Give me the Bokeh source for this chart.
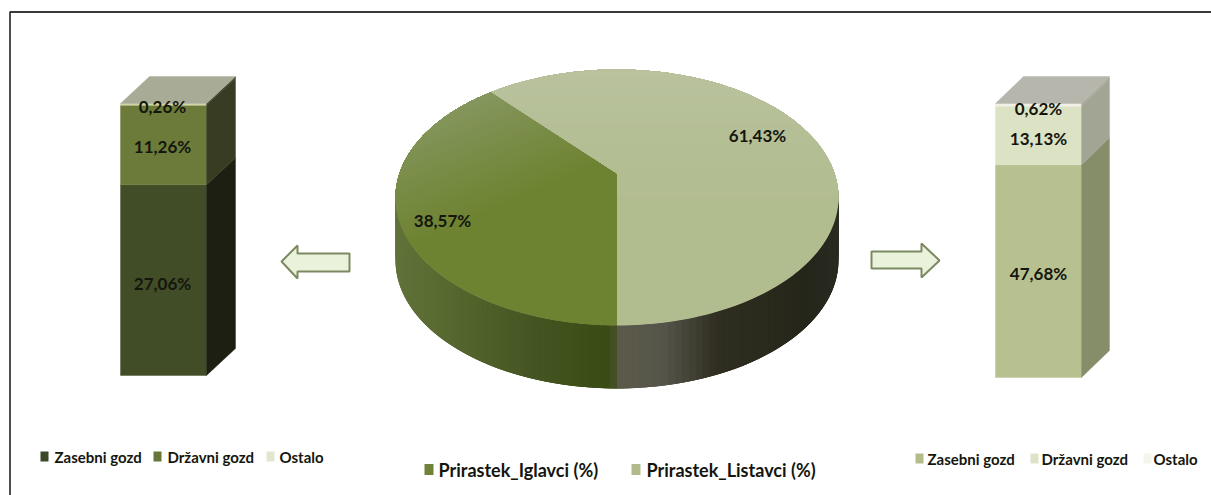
from bokeh.core.properties import value
from bokeh.embed import file_html
from bokeh.models import Range1d
from bokeh.plotting import figure
from bokeh.resources import INLINE
import numpy as np

WIDTH, HEIGHT = 1211, 495

# Share of increment by tree group, and how each group splits by ownership
pie_names = ["Prirastek_Iglavci (%)", "Prirastek_Listavci (%)"]
pie_values = [38.57, 61.43]
pie_labels = ["38,57%", "61,43%"]

owners = ["Zasebni gozd", "Državni gozd", "Ostalo"]
conifer_values = [27.06, 11.26, 0.26]
conifer_labels = ["27,06%", "11,26%", "0,26%"]
broadleaf_values = [47.68, 13.13, 0.62]
broadleaf_labels = ["47,68%", "13,13%", "0,62%"]

conifer_front = ["#414d27", "#6c7b3a", "#d3d6a6"]
conifer_side = ["#1c1f12", "#373c22", "#3c4228"]
conifer_cap = "#a8ab95"
broadleaf_front = ["#b7c190", "#dce2c4", "#f0f0e4"]
broadleaf_side = ["#868d69", "#a3a594", "#a8a99c"]
broadleaf_cap = "#b6b6ad"

p = figure(width=WIDTH, height=HEIGHT, output_backend="svg", toolbar_location=None,
           x_range=Range1d(0, WIDTH), y_range=Range1d(HEIGHT, 0),
           min_border=0, outline_line_color=None, background_fill_color="white",
           border_fill_color="white")
p.axis.visible = False
p.grid.visible = False

FONT = value("Lato")

def label(x, y, text, size="17px", align="center", color="#14160e"):
    p.text([x], [y], text=[text], text_font=FONT, text_font_style="bold", text_font_size=size,
           text_align=align, text_baseline="middle", text_color=color)

# Frame lines along the top and left of the panel
p.line([9.5, 9.5, WIDTH], [HEIGHT, 11.5, 11.5], line_color="#3a3a36", line_width=1.8)

# ---- 3D pie: a tilted disc projected through a simple perspective ----
PIE_CX, PIE_K, PIE_A, PIE_B, PIE_C, PIE_DEPTH = 616.5, 217.6, 91.06, 173.0, -0.1875, 63.0

def project(u, v, drop=0.0):
    w = 1 + PIE_C * v
    return PIE_CX + PIE_K * u / w, (PIE_A * v + PIE_B) / w + drop

def mix(c1, c2, t):
    a = [int(c1[i:i + 2], 16) for i in (1, 3, 5)]
    b = [int(c2[i:i + 2], 16) for i in (1, 3, 5)]
    return "#%02x%02x%02x" % tuple(int(round(x + (y - x) * t)) for x, y in zip(a, b))

def clip(u, v, d, k):
    """Keep the part of polygon (u, v) where d . (u, v) >= k."""
    out_u, out_v = [], []
    s = d[0] * np.asarray(u) + d[1] * np.asarray(v) - k
    n = len(u)
    for i in range(n):
        j = (i + 1) % n
        if s[i] >= 0:
            out_u.append(u[i])
            out_v.append(v[i])
        if (s[i] >= 0) != (s[j] >= 0):
            t = s[i] / (s[i] - s[j])
            out_u.append(u[i] + (u[j] - u[i]) * t)
            out_v.append(v[i] + (v[j] - v[i]) * t)
    return np.array(out_u), np.array(out_v)

total = sum(pie_values)
# angles run clockwise (towards the left) from the nearest point of the disc
split = 2 * np.pi * pie_values[0] / total

# rim of the disc, front half only, shaded by position
rim_stops = [(-1.00, "#62733c"), (-0.75, "#5b6c33"), (-0.35, "#465723"), (-0.02, "#394a14"),
             (0.00, "#5c5b4a"), (0.18, "#55544a"), (0.38, "#2f2e20"), (0.75, "#25261a"), (1.00, "#2a2b22")]

def rim_colour(u):
    xs = [s[0] for s in rim_stops]
    i = int(np.clip(np.searchsorted(xs, u) - 1, 0, len(xs) - 2))
    t = (u - xs[i]) / (xs[i + 1] - xs[i])
    return mix(rim_stops[i][1], rim_stops[i + 1][1], float(np.clip(t, 0, 1)))

# strips are painted left to right, each overlapping the next so no seams show
theta = np.linspace(-np.pi / 2 - 0.08, np.pi / 2 + 0.08, 121)
for i in range(len(theta) - 1):
    ts = np.array([theta[i], theta[min(i + 3, len(theta) - 1)]])
    us, vs = np.sin(ts), np.cos(ts)
    xt, yt = project(us, vs)
    xb, yb = project(us, vs, PIE_DEPTH)
    c = rim_colour(float(np.sin((theta[i] + theta[i + 1]) / 2)))
    p.patch(np.r_[xt, xb[::-1]], np.r_[yt, yb[::-1]], fill_color=c, line_color=None)

# Top surface: each slice is repainted in shrinking half-plane cuts for a linear shading
slices = [
    (0.0, split, "#6e8332", "#869760", (-0.62, -0.78), 0.1, 1.0),
    (split, 2 * np.pi, "#b1bc8f", "#b9c29e", (0.0, -1.0), -0.3, 1.0),
]
for start, stop, near_c, far_c, direction, k0, k1 in slices:
    ang = np.linspace(start, stop, 160)
    su = np.r_[0.0, -np.sin(ang)]
    sv = np.r_[0.0, np.cos(ang)]
    x, y = project(su, sv)
    p.patch(x, y, fill_color=near_c, line_color=None)
    for t in np.linspace(0.03, 1.0, 30):
        cu, cv = clip(su, sv, direction, k0 + (k1 - k0) * t)
        if len(cu) >= 3:
            x, y = project(cu, cv)
            p.patch(x, y, fill_color=mix(near_c, far_c, float(t)), line_color=None)

label(442, 220, pie_labels[0])
label(757, 135, pie_labels[1])

# ---- 3D stacked columns, one shared routine ----
def column(values, labels, front, side, cap, x0, x1, top, base, dx, dy, label_x, label_ys):
    values = np.asarray(values, dtype=float)
    scale = (base - top) / values.sum()
    edges = base - np.r_[0, np.cumsum(values)] * scale
    for i in range(len(values)):
        y0, y1 = edges[i], edges[i + 1]
        p.quad(left=[x0], right=[x1], bottom=[y0], top=[y1], fill_color=front[i],
               line_color=front[i], line_width=0.4)
        p.patch([x1, x1 + dx, x1 + dx, x1], [y0, y0 + dy, y1 + dy, y1],
                fill_color=side[i], line_color=side[i], line_width=0.4)
    p.patch([x0, x1, x1 + dx, x0 + dx], [top, top, top + dy, top + dy],
            fill_color=cap, line_color=cap, line_width=0.4)
    for text, y in zip(labels, label_ys):
        label(label_x, y, text)

column(conifer_values, conifer_labels, conifer_front, conifer_side, conifer_cap,
       120, 206, 103, 375, 29, -27, 162, [283, 146, 106])
column(broadleaf_values, broadleaf_labels, broadleaf_front, broadleaf_side, broadleaf_cap,
       995, 1081, 103, 377, 28, -27, 1038, [273, 138, 108])

# ---- Arrows from the pie towards each column ----
p.patch([349, 297, 297, 281, 297, 297, 349], [253, 253, 245, 261, 278, 271, 271],
        fill_color="#ebf2dc", line_color="#7c8960", line_width=2)
p.patch([871, 921, 921, 939, 921, 921, 871], [251, 251, 243, 260, 277, 268, 268],
        fill_color="#ebf2dc", line_color="#7c8960", line_width=2)

# ---- Legends ----
def legend_entry(sw_x, text_x, y, text, colour, size="15px", sw=8):
    p.quad(left=[sw_x], right=[sw_x + sw], top=[y - sw / 2 - 1], bottom=[y + sw / 2 + 1],
           fill_color=colour, line_color=None)
    label(text_x, y, text, size=size, align="left")

for sw_x, tx, name, col in zip([40, 153, 266], [54, 167, 279], owners, ["#3c4826", "#66763a", "#e2e6cf"]):
    legend_entry(sw_x, tx, 456, name, col)
for sw_x, tx, name, col in zip([915, 1030, 1143], [927, 1041, 1153], owners, ["#b3bd8c", "#dde3c6", "#f4f5ec"]):
    legend_entry(sw_x, tx, 458, name, col)
for sw_x, tx, name, col in zip([424, 631], [438, 646], pie_names, ["#6f8238", "#b0ba8b"]):
    legend_entry(sw_x, tx, 469, name, col, size="18px", sw=9)

open("out.html", "w").write(file_html(p, INLINE))
